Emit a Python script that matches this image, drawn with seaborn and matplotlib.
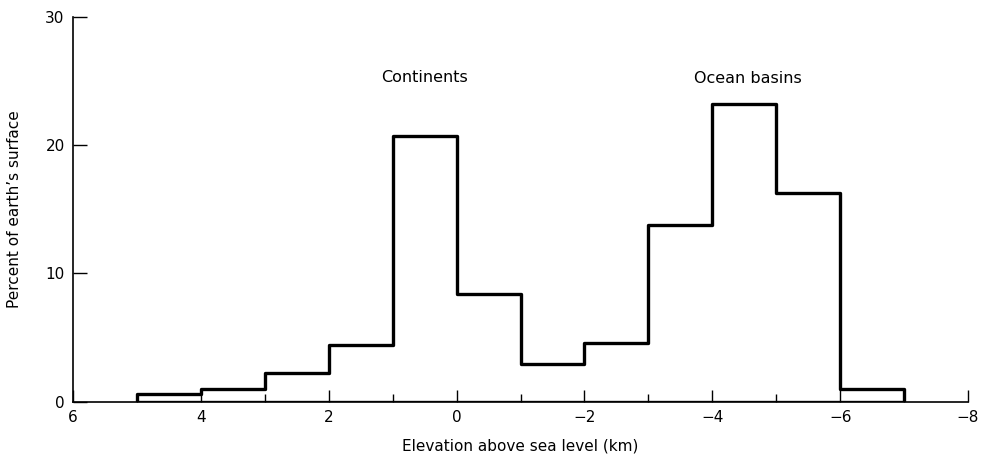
import numpy as np
import pandas as pd
import matplotlib
matplotlib.use("Agg")
import matplotlib.pyplot as plt
import seaborn as sns

# 1 km elevation bands, listed by their upper edge (km), left to right on the reversed axis
band_top = [5, 4, 3, 2, 1, 0, -1, -2, -3, -4, -5, -6]
# percent of the earth's surface in each band
pct = [0.6, 1.0, 2.2, 4.4, 20.7, 8.4, 2.9, 4.6, 13.8, 23.2, 16.3, 1.0]
bin_edges = sorted(band_top + [band_top[-1] - 1])

x_major = [6, 4, 2, 0, -2, -4, -6, -8]
x_minor = [5, 3, 1, -1, -3, -5, -7]
y_major = [0, 10, 20, 30]

df = pd.DataFrame({"elev": np.array(band_top) - 0.5, "pct": pct})

sns.set_style("white")
plt.rcParams["font.family"] = ["DejaVu Sans"]
plt.rcParams["text.color"] = "black"
plt.rcParams["axes.labelcolor"] = "black"
plt.rcParams["xtick.color"] = "black"
plt.rcParams["ytick.color"] = "black"

fig, ax = plt.subplots(figsize=(9.81, 4.69), dpi=100)
fig.subplots_adjust(left=0.0744, right=0.9868, bottom=0.1439, top=0.9631)

# filled step with an empty face so the outline drops to the axis at both ends
sns.histplot(data=df, x="elev", weights="pct", bins=bin_edges, element="step",
             fill=True, color="black", facecolor="none", edgecolor="black",
             alpha=1, linewidth=2.4, ax=ax)

ax.set_xlim(6, -8)
ax.set_ylim(0, 30)
ax.set_xticks(x_major)
ax.set_xticks(x_minor, minor=True)
ax.set_yticks(y_major)
ax.tick_params(axis="x", which="major", direction="in", length=9, width=1, pad=6,
               labelsize=11, bottom=True)
ax.tick_params(axis="x", which="minor", direction="in", length=6, width=1, bottom=True)
ax.tick_params(axis="y", direction="in", length=10, width=1, pad=6, labelsize=11,
               left=True)

for side in ["top", "right"]:
    ax.spines[side].set_visible(False)
for side in ["left", "bottom"]:
    ax.spines[side].set_color("black")
    ax.spines[side].set_linewidth(1.2)

ax.set_xlabel("Elevation above sea level (km)", fontsize=11, labelpad=10)
ax.set_ylabel("Percent of earth\u2019s surface", fontsize=11, labelpad=17)

ax.text(0.5, 25.3, "Continents", fontsize=11.5, ha="center", va="center")
ax.text(-4.55, 25.2, "Ocean basins", fontsize=11.5, ha="center", va="center")

fig.savefig("out.png", dpi=100)
